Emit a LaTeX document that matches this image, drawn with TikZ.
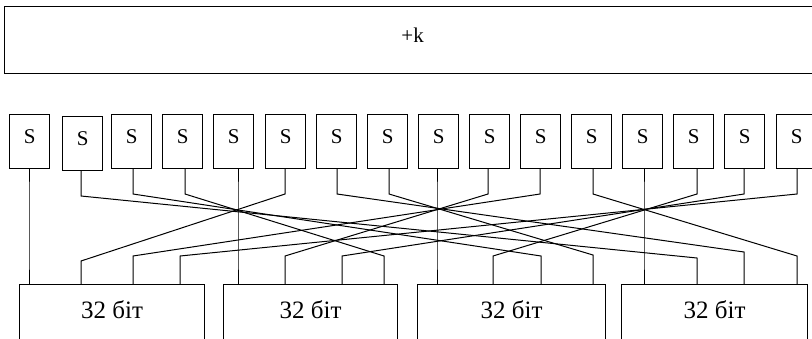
\documentclass[tikz,border=0pt]{standalone}
\usepackage{fontspec}
\setmainfont{Liberation Serif}
\begin{document}
\begin{tikzpicture}[x=1pt,y=-1pt,
  box/.style={draw, line width=1.2pt, rectangle, inner sep=0pt, anchor=north west},
  sbox/.style={box, minimum width=40pt, text height=29pt, text depth=25pt, font=\fontsize{21}{21}\selectfont},
  wbox/.style={box, text height=34pt, text depth=22pt, font=\fontsize{25}{25}\selectfont},
  keybox/.style={box, minimum width=816pt, text height=36pt, text depth=31pt, font=\fontsize{21}{21}\selectfont},
  wire/.style={line width=1pt}]
\useasboundingbox (0,0) rectangle (812,338);
\clip (0,0) rectangle (812,338);
% key addition
\node[keybox] (key) at (4,6) {+k};
% S-boxes
\foreach \i/\x/\y in {1/9/114,2/62/116,3/111/114,4/162/114,5/213/114,6/265/114,7/316/114,8/367/114,
  9/418/114,10/469/114,11/520/114,12/571/114,13/622/114,14/673/114,15/724/114,16/776/114}
  \node[sbox] (s\i) at (\x,\y) {S};
% 32-bit words
\node[wbox, minimum width=185pt] (w0) at (19,284) {32 біт};
\node[wbox, minimum width=174pt] (w1) at (223,284) {32 біт};
\node[wbox, minimum width=188pt] (w2) at (417,284) {32 біт};
\node[wbox, minimum width=186pt] (w3) at (621,284) {32 біт};
% permutation wires
\foreach \i/\ux/\uy/\lx/\ly/\w in {
  1/29/194/29/256/0, 2/81/196/697/258/3, 3/133/194/541/256/2, 4/185/194/384/256/1,
  5/238/194/238/256/1, 6/285/194/81/261/0, 7/337/194/744/252/3, 8/389/194/593/255/2,
  9/437/194/437/256/2, 10/488/194/285/256/1, 11/540/194/133/256/0, 12/593/194/797/256/3,
  13/644/194/644/256/3, 14/697/194/493/256/2, 15/744/194/342/256/1, 16/797/194/180/256/0}
{
  \coordinate (u\i) at (\ux,\uy);
  \coordinate (l\i) at (\lx,\ly);
  \draw[wire] (s\i.south -| u\i) -- (u\i) -- (l\i) -- (l\i |- w\w.north);
}
\end{tikzpicture}
\end{document}
